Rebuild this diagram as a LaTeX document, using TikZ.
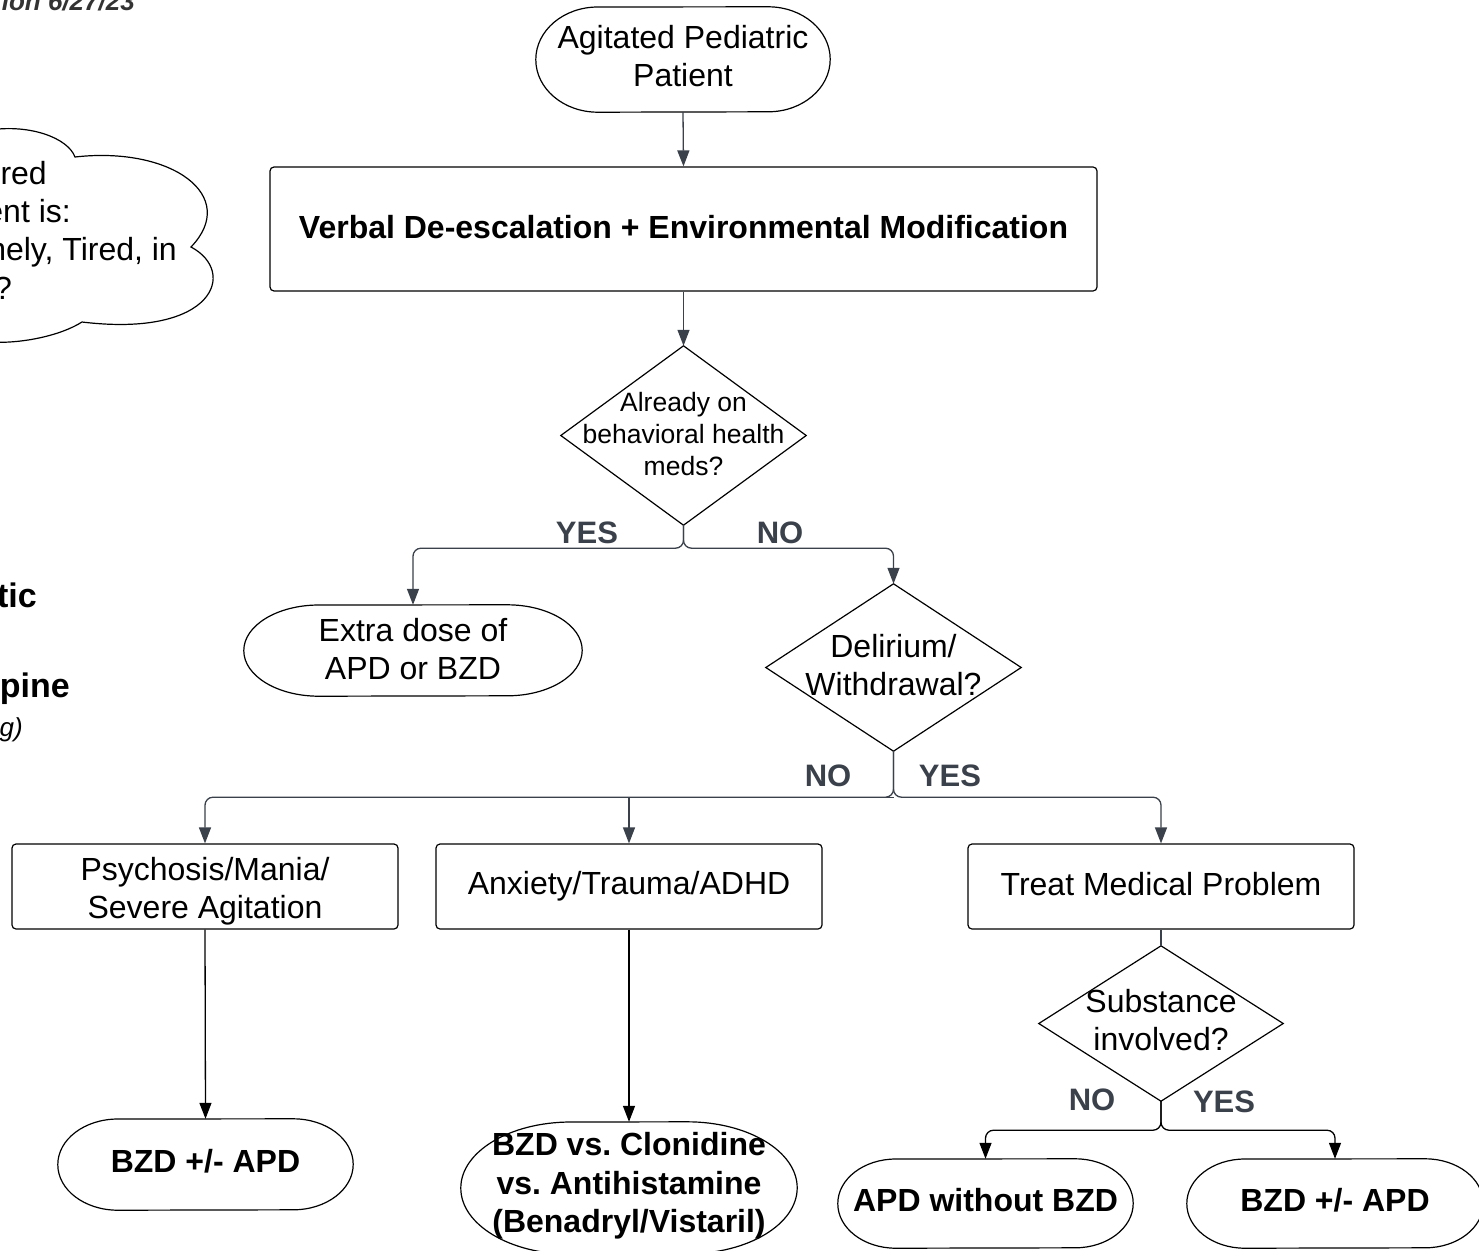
\documentclass[tikz,border=0pt]{standalone}
\usepackage{fontspec}
\setmainfont{Liberation Sans}
\usetikzlibrary{arrows.meta}
\definecolor{lgrey}{HTML}{3A414A}
\definecolor{ttl}{HTML}{333333}
\newcommand{\mydepth}[1]{\rule[-#1pt]{0pt}{0pt}}
\newcommand{\myheight}[1]{\rule{0pt}{#1pt}}
% stadium outline with elliptical ends round a named node: {node}{x radius}{y radius}
\newcommand{\mystadium}[3]{%
  \draw[outline] (#1.west) arc[start angle=180, end angle=90, x radius=#2pt, y radius=#3pt]
    -- ([xshift=-#2pt]#1.north east) arc[start angle=90, end angle=-90, x radius=#2pt, y radius=#3pt]
    -- ([xshift=#2pt]#1.south west) arc[start angle=270, end angle=180, x radius=#2pt, y radius=#3pt] -- cycle;}
\tikzset{
  txt/.style={font=\fontsize{32pt}{38pt}\selectfont, align=center, inner sep=0pt, text=black},
  smalltxt/.style={font=\fontsize{26.5pt}{32pt}\selectfont, align=center, inner sep=0pt, text=black},
  outline/.style={draw=black, line width=1.2pt},
  boxshape/.style={txt, rectangle, outline, rounded corners=4pt},
  plain/.style={txt, rectangle},
  boldtxt/.style={font=\fontsize{32pt}{38.5pt}\selectfont\bfseries},
  lab/.style={font=\fontsize{31pt}{38pt}\selectfont\bfseries, text=lgrey, inner sep=0pt},
  conn/.style={draw=lgrey, line width=1.3pt, -{Triangle[width=12pt,length=16pt]}},
  connb/.style={draw=black, line width=1.3pt, -{Triangle[width=12pt,length=16pt]}},
  link/.style={draw=lgrey, line width=1.3pt},
}
\begin{document}
\frenchspacing
\begin{tikzpicture}[x=1pt,y=-1pt]
\useasboundingbox (0,0) rectangle (1479,1250);
\clip (0,0) rectangle (1479,1250);
\fill[white] (0,0) rectangle (1479,1250);

% partial items at the left edge
\node[anchor=base east, font=\fontsize{26pt}{30pt}\selectfont\bfseries\itshape, text=ttl, inner sep=0pt] (title) at (135,10) {ion 6/27/23};

\draw[outline] (-10,130) .. controls (30,124) and (68,138) .. (75,157)
  .. controls (172,146) and (240,196) .. (191,247)
  .. controls (238,272) and (214,338) .. (82,322)
  .. controls (60,336) and (20,344) .. (-10,342);
\node[anchor=base east, txt] (c1) at (47,184) {red};
\node[anchor=base east, txt] (c2) at (71,222) {ent is:};
\node[anchor=base east, txt] (c3) at (177,260) {nely, Tired, in};
\node[anchor=base east, txt] (c4) at (12,299) {?};

\node[anchor=base east, font=\fontsize{34pt}{40pt}\selectfont\bfseries, inner sep=0pt] (p1) at (37,607) {tic};
\node[anchor=base east, font=\fontsize{34pt}{40pt}\selectfont\bfseries, inner sep=0pt] (p2) at (70,697) {pine};
\node[anchor=base east, font=\fontsize{26pt}{30pt}\selectfont\itshape, inner sep=0pt] (p3) at (23,736) {g)};

% main nodes
\node[plain, minimum width=294pt, minimum height=105pt] (start) at (683,59.5) {Agitated Pediatric\\Patient\mydepth{8}};
\mystadium{start}{62}{52.5}
\node[boxshape, minimum width=827pt, minimum height=124pt, boldtxt] (verbal) at (683.5,229) {Verbal De-escalation + Environmental Modification\mydepth{4}};

\node[smalltxt, minimum width=245pt, minimum height=179pt] (d1) at (683.5,435.5) {Already on\\behavioral health\\meds?\mydepth{4}};
\draw[outline] (d1.north) -- (d1.east) -- (d1.south) -- (d1.west) -- cycle;

\node[plain, minimum width=338pt, minimum height=91pt] (extra) at (413,650.5) {Extra dose of\\APD or BZD\mydepth{4}};
\mystadium{extra}{75}{45.5}

\node[plain, minimum width=255pt, minimum height=167pt] (d2) at (893.5,667.5) {Delirium/\\Withdrawal?\mydepth{6}};
\draw[outline] (d2.north) -- (d2.east) -- (d2.south) -- (d2.west) -- cycle;

\node[boxshape, minimum width=386pt, minimum height=85pt] (psych) at (205,886.5) {\myheight{33}Psychosis/Mania/\\Severe Agitation};
\node[boxshape, minimum width=386pt, minimum height=85pt] (anx) at (629,886.5) {Anxiety/Trauma/ADHD};
\node[boxshape, minimum width=386pt, minimum height=85pt] (treat) at (1161,886.5) {Treat Medical Problem\mydepth{6}};

\node[plain, minimum width=244pt, minimum height=155pt] (d3) at (1161,1023.5) {Substance\\involved?\mydepth{7}};
\draw[outline] (d3.north) -- (d3.east) -- (d3.south) -- (d3.west) -- cycle;

\node[plain, minimum width=295pt, minimum height=91pt, boldtxt] (bzd1) at (205.5,1164.5) {BZD +/- APD\mydepth{8}};
\mystadium{bzd1}{60}{45.5}

\node[plain, minimum width=336pt, minimum height=132pt, boldtxt] (bzdc) at (629,1188) {BZD vs. Clonidine\\vs. Antihistamine\\(Benadryl/Vistaril)\mydepth{11}};
\mystadium{bzdc}{110}{66}

\node[plain, minimum width=295pt, minimum height=89pt, boldtxt] (apdw) at (985.5,1203.5) {APD without BZD\mydepth{8}};
\mystadium{apdw}{58}{44.5}
\node[plain, minimum width=296pt, minimum height=89pt, boldtxt] (bzd2) at (1335,1203.5) {BZD +/- APD\mydepth{8}};
\mystadium{bzd2}{58}{44.5}

% labels
\node[lab] (yes1) at (587,533) {YES};
\node[lab] (no1) at (780,533) {NO};
\node[lab] (no2) at (828,776) {NO};
\node[lab] (yes2) at (950,776) {YES};
\node[lab] (no3) at (1092,1100) {NO};
\node[lab] (yes3) at (1224,1102) {YES};

% connectors
\draw[conn] (start.south) -- (verbal.north);
\draw[conn] (verbal.south) -- (d1.north);
\draw[conn, rounded corners=8pt] (d1.south) -- ++(0,23) -| (extra.north);
\draw[conn, rounded corners=8pt] (d1.south) -- ++(0,23) -| (d2.north);
\draw[conn, rounded corners=8pt] (d2.south) -- ++(0,46) -| (psych.north);
\draw[conn] (d2.south) ++(0,46) -| (anx.north);
\draw[conn, rounded corners=8pt] (d2.south) -- ++(0,46) -| (treat.north);
\draw[connb] (psych.south) -- (bzd1.north);
\draw[connb] (anx.south) -- (bzdc.north);
\draw[link] (treat.south) -- (d3.north);
\draw[connb, rounded corners=8pt] (d3.south) -- ++(0,29) -| (apdw.north);
\draw[connb, rounded corners=8pt] (d3.south) -- ++(0,29) -| (bzd2.north);
\end{tikzpicture}
\end{document}
